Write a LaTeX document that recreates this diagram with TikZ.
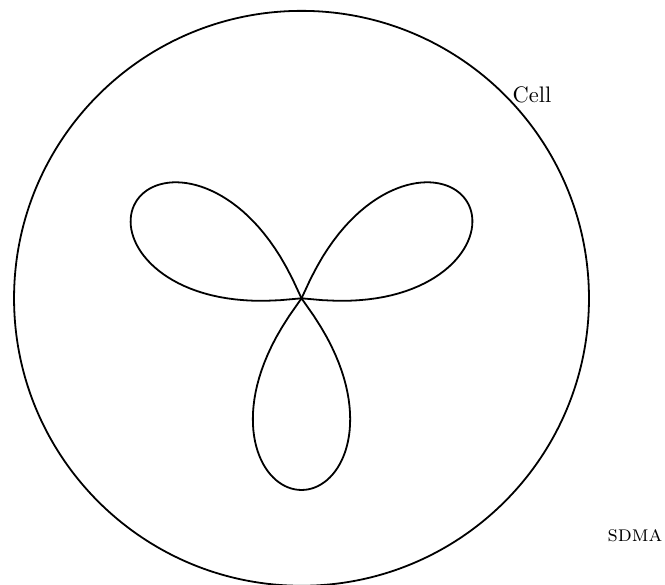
\documentclass[tikz,border=0pt]{standalone}
\usepackage{tikz}
\begin{document}
\begin{tikzpicture}[
  outline/.style={thick, draw=black},
  leaf/.style={thick, draw=black, samples=73, variable=\t, domain=-36:36}
]
\useasboundingbox (-4.72,-4.48) rectangle (5.69,4.67);
\coordinate (centre) at (0,0);
\draw[outline] (centre) circle (4.5cm);
% three leaves of the trefoil
\foreach \ang in {30,150,270}
  \draw[leaf] plot ({\ang+\t}:{3*(abs(cos(2.5*\t)))^0.7});
\node[right] (cell) at (45:4.5cm) {Cell};
\node (sdma) at (5.22,-3.72) {\textsc{sdma}};
\end{tikzpicture}
\end{document}
